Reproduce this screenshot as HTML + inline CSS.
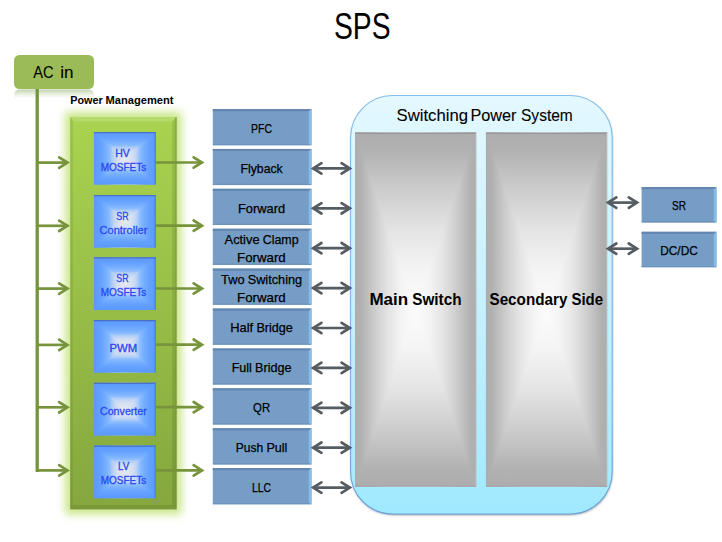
<!DOCTYPE html>
<html lang="en"><head><meta charset="utf-8"><title>SPS</title>
<style>html,body{margin:0;padding:0;background:#fff;}body{width:722px;height:542px;overflow:hidden;font-family:"Liberation Sans",sans-serif;}svg{display:block;}</style>
</head><body>
<svg width="722" height="542" viewBox="0 0 722 542" font-family="'Liberation Sans', sans-serif">
<defs>
<linearGradient id="gGreen" x1="0" y1="0" x2="0" y2="1"><stop offset="0" stop-color="#a9d350"/><stop offset="1" stop-color="#85a73e"/></linearGradient>
<linearGradient id="gBorder" x1="0" y1="0" x2="0" y2="1"><stop offset="0" stop-color="#84beeb"/><stop offset="0.7" stop-color="#7ab3e6"/><stop offset="1" stop-color="#6aa0d8"/></linearGradient>
<linearGradient id="gMain" x1="0" y1="0" x2="0" y2="1"><stop offset="0" stop-color="#e4f8ff"/><stop offset="0.5" stop-color="#c6f1ff"/><stop offset="1" stop-color="#a0e9ff"/></linearGradient>
<linearGradient id="gRefl" x1="0" y1="0" x2="0" y2="1"><stop offset="0" stop-color="#bdd0a8" stop-opacity="0.95"/><stop offset="0.45" stop-color="#c9d9b6" stop-opacity="0.5"/><stop offset="1" stop-color="#d5e2c6" stop-opacity="0"/></linearGradient>
<filter id="glow" x="-30%" y="-10%" width="160%" height="120%"><feGaussianBlur stdDeviation="4.5"/></filter>
<filter id="sh" x="-10%" y="-10%" width="120%" height="120%"><feGaussianBlur stdDeviation="1.2"/></filter>
<!-- path gradient pieces -->
<linearGradient id="bH" x1="0" y1="0" x2="1" y2="0"><stop offset="0.0000" stop-color="#5a98ff"/><stop offset="0.1100" stop-color="#64a1ff"/><stop offset="0.2000" stop-color="#78b0ff"/><stop offset="0.2600" stop-color="#8cbdff"/><stop offset="0.2900" stop-color="#accbf8"/><stop offset="0.3400" stop-color="#c7d8f4"/><stop offset="0.4000" stop-color="#d8e1f0"/><stop offset="0.5000" stop-color="#e6e9f0"/><stop offset="0.6000" stop-color="#d8e1f0"/><stop offset="0.6600" stop-color="#c7d8f4"/><stop offset="0.7100" stop-color="#accbf8"/><stop offset="0.7400" stop-color="#8cbdff"/><stop offset="0.8000" stop-color="#78b0ff"/><stop offset="0.8900" stop-color="#64a1ff"/><stop offset="1.0000" stop-color="#5a98ff"/></linearGradient>
<linearGradient id="bT" gradientUnits="objectBoundingBox" x1="0" y1="0" x2="0" y2="1"><stop offset="0" stop-color="#5a98ff"/><stop offset="0.22" stop-color="#64a1ff"/><stop offset="0.4" stop-color="#78b0ff"/><stop offset="0.52" stop-color="#8cbdff"/><stop offset="0.58" stop-color="#accbf8"/><stop offset="0.68" stop-color="#c7d8f4"/><stop offset="0.8" stop-color="#d8e1f0"/><stop offset="1" stop-color="#e6e9f0"/></linearGradient>
<linearGradient id="bB" gradientUnits="objectBoundingBox" x1="0" y1="1" x2="0" y2="0"><stop offset="0" stop-color="#5a98ff"/><stop offset="0.22" stop-color="#64a1ff"/><stop offset="0.4" stop-color="#78b0ff"/><stop offset="0.52" stop-color="#8cbdff"/><stop offset="0.58" stop-color="#accbf8"/><stop offset="0.68" stop-color="#c7d8f4"/><stop offset="0.8" stop-color="#d8e1f0"/><stop offset="1" stop-color="#e6e9f0"/></linearGradient>
<linearGradient id="yH" x1="0" y1="0" x2="1" y2="0"><stop offset="0.0000" stop-color="#adadad"/><stop offset="0.0500" stop-color="#b1b1b1"/><stop offset="0.1500" stop-color="#cacaca"/><stop offset="0.2750" stop-color="#e4e4e4"/><stop offset="0.3900" stop-color="#f4f4f4"/><stop offset="0.5000" stop-color="#fcfcfc"/><stop offset="0.6100" stop-color="#f4f4f4"/><stop offset="0.7250" stop-color="#e4e4e4"/><stop offset="0.8500" stop-color="#cacaca"/><stop offset="0.9500" stop-color="#b1b1b1"/><stop offset="1.0000" stop-color="#adadad"/></linearGradient>
<linearGradient id="yT" gradientUnits="objectBoundingBox" x1="0" y1="0" x2="0" y2="1"><stop offset="0" stop-color="#adadad"/><stop offset="0.1" stop-color="#b1b1b1"/><stop offset="0.3" stop-color="#cacaca"/><stop offset="0.55" stop-color="#e4e4e4"/><stop offset="0.78" stop-color="#f4f4f4"/><stop offset="1" stop-color="#fcfcfc"/></linearGradient>
<linearGradient id="yB" gradientUnits="objectBoundingBox" x1="0" y1="1" x2="0" y2="0"><stop offset="0" stop-color="#adadad"/><stop offset="0.1" stop-color="#b1b1b1"/><stop offset="0.3" stop-color="#cacaca"/><stop offset="0.55" stop-color="#e4e4e4"/><stop offset="0.78" stop-color="#f4f4f4"/><stop offset="1" stop-color="#fcfcfc"/></linearGradient>
</defs>
<rect width="722" height="542" fill="#fff"/>
<text x="362.30" y="38.70" font-size="36.63" text-anchor="middle" fill="#000" textLength="56.56" lengthAdjust="spacingAndGlyphs">SPS</text>
<path d="M14 98.5V95a5.5 5.5 0 0 1 5.5 -5.5H88.5a5.5 5.5 0 0 1 5.5 5.5V98.5Z" fill="url(#gRefl)"/>
<rect x="14" y="55" width="80" height="34" rx="5.5" fill="#9bbb59"/>
<text y="77.50" font-size="16.65" fill="#000" stroke="#000" stroke-width="0.1"><tspan x="33.30" textLength="20.30" lengthAdjust="spacingAndGlyphs">AC</tspan> <tspan x="60.30" textLength="13.30" lengthAdjust="spacingAndGlyphs">in</tspan></text>
<rect x="65.2" y="112" width="116.3" height="402.4" fill="#c9e688" filter="url(#glow)"/>
<path d="M37.2 89V472.0" stroke="#77933c" stroke-width="3.3" fill="none"/>
<path d="M37.3 162.6H67" stroke="#77933c" stroke-width="2.7" fill="none"/>
<path d="M59.16 157.40L67.46 162.60L59.16 167.80" stroke="#77933c" stroke-width="2.7" fill="none" stroke-linecap="round" stroke-linejoin="miter" stroke-miterlimit="10"/>
<path d="M37.3 225.8H67" stroke="#77933c" stroke-width="2.7" fill="none"/>
<path d="M59.16 220.60L67.46 225.80L59.16 231.00" stroke="#77933c" stroke-width="2.7" fill="none" stroke-linecap="round" stroke-linejoin="miter" stroke-miterlimit="10"/>
<path d="M37.3 288.6H67" stroke="#77933c" stroke-width="2.7" fill="none"/>
<path d="M59.16 283.40L67.46 288.60L59.16 293.80" stroke="#77933c" stroke-width="2.7" fill="none" stroke-linecap="round" stroke-linejoin="miter" stroke-miterlimit="10"/>
<path d="M37.3 344.9H67" stroke="#77933c" stroke-width="2.7" fill="none"/>
<path d="M59.16 339.70L67.46 344.90L59.16 350.10" stroke="#77933c" stroke-width="2.7" fill="none" stroke-linecap="round" stroke-linejoin="miter" stroke-miterlimit="10"/>
<path d="M37.3 407.3H67" stroke="#77933c" stroke-width="2.7" fill="none"/>
<path d="M59.16 402.10L67.46 407.30L59.16 412.50" stroke="#77933c" stroke-width="2.7" fill="none" stroke-linecap="round" stroke-linejoin="miter" stroke-miterlimit="10"/>
<path d="M37.3 470.4H67" stroke="#77933c" stroke-width="2.7" fill="none"/>
<path d="M59.16 465.20L67.46 470.40L59.16 475.60" stroke="#77933c" stroke-width="2.7" fill="none" stroke-linecap="round" stroke-linejoin="miter" stroke-miterlimit="10"/>
<rect x="70.2" y="117" width="106.3" height="392.4" fill="url(#gGreen)"/>
<path d="M70.2 117H176.5L172.1 121.4H74.60000000000001Z" fill="#fff" fill-opacity="0.16"/>
<path d="M70.2 117V509.4L72.8 505.0V121.4Z" fill="#000" fill-opacity="0.08"/>
<path d="M176.5 117V509.4L172.1 505.0V121.4Z" fill="#000" fill-opacity="0.09"/>
<path d="M70.2 509.4H176.5L172.1 505.0H72.8Z" fill="#000" fill-opacity="0.08"/>
<path d="M176.0 117V509.4" stroke="#6f9234" stroke-opacity="0.75" fill="none"/>
<text y="103.60" font-size="10.66" font-weight="bold" fill="#000"><tspan x="70.31" textLength="32.41" lengthAdjust="spacingAndGlyphs">Power</tspan> <tspan x="105.49" textLength="68.00" lengthAdjust="spacingAndGlyphs">Management</tspan></text>
<rect x="93.9" y="132" width="62.099999999999994" height="52.599999999999994" fill="url(#bH)"/>
<path d="M93.9 132H156L124.95 158.3Z" fill="url(#bT)"/>
<path d="M93.9 184.6H156L124.95 158.3Z" fill="url(#bB)"/>
<path d="M93.9 132.6H156" stroke="#4466b6" stroke-opacity="0.8" stroke-width="1.2" fill="none"/>
<path d="M155.2 132V184.6" stroke="#4a7be6" stroke-width="1.6" stroke-opacity="0.7" fill="none"/>
<text x="122.50" y="156.70" font-size="10.32" text-anchor="middle" fill="#2a48f2" stroke="#2a48f2" stroke-width="0.3" textLength="14.57" lengthAdjust="spacingAndGlyphs">HV</text>
<text x="123.50" y="170.90" font-size="10.32" text-anchor="middle" fill="#2a48f2" stroke="#2a48f2" stroke-width="0.3" textLength="45.63" lengthAdjust="spacingAndGlyphs">MOSFETs</text>
<path d="M156 162.5H201.5" stroke="#77933c" stroke-width="2.7" fill="none"/>
<path d="M193.66 157.30L201.96 162.50L193.66 167.70" stroke="#77933c" stroke-width="2.7" fill="none" stroke-linecap="round" stroke-linejoin="miter" stroke-miterlimit="10"/>
<rect x="93.9" y="195" width="62.099999999999994" height="52.599999999999994" fill="url(#bH)"/>
<path d="M93.9 195H156L124.95 221.3Z" fill="url(#bT)"/>
<path d="M93.9 247.6H156L124.95 221.3Z" fill="url(#bB)"/>
<path d="M93.9 195.6H156" stroke="#4466b6" stroke-opacity="0.8" stroke-width="1.2" fill="none"/>
<path d="M155.2 195V247.6" stroke="#4a7be6" stroke-width="1.6" stroke-opacity="0.7" fill="none"/>
<text x="122.50" y="219.70" font-size="10.32" text-anchor="middle" fill="#2a48f2" stroke="#2a48f2" stroke-width="0.3" textLength="12.27" lengthAdjust="spacingAndGlyphs">SR</text>
<text x="123.50" y="233.90" font-size="10.32" text-anchor="middle" fill="#2a48f2" stroke="#2a48f2" stroke-width="0.3" textLength="47.94" lengthAdjust="spacingAndGlyphs">Controller</text>
<path d="M156 225.7H201.5" stroke="#77933c" stroke-width="2.7" fill="none"/>
<path d="M193.66 220.50L201.96 225.70L193.66 230.90" stroke="#77933c" stroke-width="2.7" fill="none" stroke-linecap="round" stroke-linejoin="miter" stroke-miterlimit="10"/>
<rect x="93.9" y="257.3" width="62.099999999999994" height="52.60000000000002" fill="url(#bH)"/>
<path d="M93.9 257.3H156L124.95 283.6Z" fill="url(#bT)"/>
<path d="M93.9 309.90000000000003H156L124.95 283.6Z" fill="url(#bB)"/>
<path d="M93.9 257.90000000000003H156" stroke="#4466b6" stroke-opacity="0.8" stroke-width="1.2" fill="none"/>
<path d="M155.2 257.3V309.90000000000003" stroke="#4a7be6" stroke-width="1.6" stroke-opacity="0.7" fill="none"/>
<text x="122.50" y="282.00" font-size="10.32" text-anchor="middle" fill="#2a48f2" stroke="#2a48f2" stroke-width="0.3" textLength="12.27" lengthAdjust="spacingAndGlyphs">SR</text>
<text x="123.50" y="296.20" font-size="10.32" text-anchor="middle" fill="#2a48f2" stroke="#2a48f2" stroke-width="0.3" textLength="45.63" lengthAdjust="spacingAndGlyphs">MOSFETs</text>
<path d="M156 288.5H201.5" stroke="#77933c" stroke-width="2.7" fill="none"/>
<path d="M193.66 283.30L201.96 288.50L193.66 293.70" stroke="#77933c" stroke-width="2.7" fill="none" stroke-linecap="round" stroke-linejoin="miter" stroke-miterlimit="10"/>
<rect x="93.9" y="320" width="62.099999999999994" height="52.60000000000002" fill="url(#bH)"/>
<path d="M93.9 320H156L124.95 346.3Z" fill="url(#bT)"/>
<path d="M93.9 372.6H156L124.95 346.3Z" fill="url(#bB)"/>
<path d="M93.9 320.6H156" stroke="#4466b6" stroke-opacity="0.8" stroke-width="1.2" fill="none"/>
<path d="M155.2 320V372.6" stroke="#4a7be6" stroke-width="1.6" stroke-opacity="0.7" fill="none"/>
<text x="123.40" y="352.00" font-size="10.32" text-anchor="middle" fill="#2a48f2" stroke="#2a48f2" stroke-width="0.3" textLength="27.68" lengthAdjust="spacingAndGlyphs">PWM</text>
<path d="M156 344.7H201.5" stroke="#77933c" stroke-width="2.7" fill="none"/>
<path d="M193.66 339.50L201.96 344.70L193.66 349.90" stroke="#77933c" stroke-width="2.7" fill="none" stroke-linecap="round" stroke-linejoin="miter" stroke-miterlimit="10"/>
<rect x="93.9" y="382.8" width="62.099999999999994" height="52.60000000000002" fill="url(#bH)"/>
<path d="M93.9 382.8H156L124.95 409.1Z" fill="url(#bT)"/>
<path d="M93.9 435.40000000000003H156L124.95 409.1Z" fill="url(#bB)"/>
<path d="M93.9 383.40000000000003H156" stroke="#4466b6" stroke-opacity="0.8" stroke-width="1.2" fill="none"/>
<path d="M155.2 382.8V435.40000000000003" stroke="#4a7be6" stroke-width="1.6" stroke-opacity="0.7" fill="none"/>
<text x="123.40" y="414.80" font-size="10.32" text-anchor="middle" fill="#2a48f2" stroke="#2a48f2" stroke-width="0.3" textLength="46.88" lengthAdjust="spacingAndGlyphs">Converter</text>
<path d="M156 407.2H201.5" stroke="#77933c" stroke-width="2.7" fill="none"/>
<path d="M193.66 402.00L201.96 407.20L193.66 412.40" stroke="#77933c" stroke-width="2.7" fill="none" stroke-linecap="round" stroke-linejoin="miter" stroke-miterlimit="10"/>
<rect x="93.9" y="445.6" width="62.099999999999994" height="52.60000000000002" fill="url(#bH)"/>
<path d="M93.9 445.6H156L124.95 471.90000000000003Z" fill="url(#bT)"/>
<path d="M93.9 498.20000000000005H156L124.95 471.90000000000003Z" fill="url(#bB)"/>
<path d="M93.9 446.20000000000005H156" stroke="#4466b6" stroke-opacity="0.8" stroke-width="1.2" fill="none"/>
<path d="M155.2 445.6V498.20000000000005" stroke="#4a7be6" stroke-width="1.6" stroke-opacity="0.7" fill="none"/>
<text x="123.70" y="469.80" font-size="10.32" text-anchor="middle" fill="#2a48f2" stroke="#2a48f2" stroke-width="0.3" textLength="11.21" lengthAdjust="spacingAndGlyphs">LV</text>
<text x="123.50" y="483.90" font-size="10.32" text-anchor="middle" fill="#2a48f2" stroke="#2a48f2" stroke-width="0.3" textLength="45.63" lengthAdjust="spacingAndGlyphs">MOSFETs</text>
<path d="M156 470.4H201.5" stroke="#77933c" stroke-width="2.7" fill="none"/>
<path d="M193.66 465.20L201.96 470.40L193.66 475.60" stroke="#77933c" stroke-width="2.7" fill="none" stroke-linecap="round" stroke-linejoin="miter" stroke-miterlimit="10"/>
<rect x="212.8" y="109.0" width="98.69999999999999" height="36.19999999999999" fill="#769dc6"/>
<path d="M212.8 109.0H311.5L308.8 111.2H212.8Z" fill="#6587af"/>
<path d="M311.5 109.0V145.2L308.8 143.89999999999998V111.2Z" fill="#86bde8"/>
<path d="M212.8 145.2H311.5L308.8 143.89999999999998H212.8Z" fill="#6d93bc"/>
<text x="261.60" y="132.70" font-size="12.95" text-anchor="middle" fill="#000" stroke="#000" stroke-width="0.25" textLength="21.01" lengthAdjust="spacingAndGlyphs">PFC</text>
<rect x="212.8" y="148.9" width="98.69999999999999" height="36.20000000000002" fill="#769dc6"/>
<path d="M212.8 148.9H311.5L308.8 151.1H212.8Z" fill="#6587af"/>
<path d="M311.5 148.9V185.10000000000002L308.8 183.8V151.1Z" fill="#86bde8"/>
<path d="M212.8 185.10000000000002H311.5L308.8 183.8H212.8Z" fill="#6d93bc"/>
<text x="261.60" y="172.60" font-size="12.95" text-anchor="middle" fill="#000" stroke="#000" stroke-width="0.25" textLength="42.33" lengthAdjust="spacingAndGlyphs">Flyback</text>
<rect x="212.8" y="188.8" width="98.69999999999999" height="36.19999999999999" fill="#769dc6"/>
<path d="M212.8 188.8H311.5L308.8 191.0H212.8Z" fill="#6587af"/>
<path d="M311.5 188.8V225.0L308.8 223.7V191.0Z" fill="#86bde8"/>
<path d="M212.8 225.0H311.5L308.8 223.7H212.8Z" fill="#6d93bc"/>
<text x="261.60" y="212.50" font-size="12.95" text-anchor="middle" fill="#000" stroke="#000" stroke-width="0.25" textLength="47.18" lengthAdjust="spacingAndGlyphs">Forward</text>
<rect x="212.8" y="228.7" width="98.69999999999999" height="36.19999999999999" fill="#769dc6"/>
<path d="M212.8 228.7H311.5L308.8 230.89999999999998H212.8Z" fill="#6587af"/>
<path d="M311.5 228.7V264.9L308.8 263.59999999999997V230.89999999999998Z" fill="#86bde8"/>
<path d="M212.8 264.9H311.5L308.8 263.59999999999997H212.8Z" fill="#6d93bc"/>
<text y="243.60" font-size="12.95" fill="#000" stroke="#000" stroke-width="0.25"><tspan x="224.57" textLength="34.97" lengthAdjust="spacingAndGlyphs">Active</tspan> <tspan x="262.71" textLength="35.92" lengthAdjust="spacingAndGlyphs">Clamp</tspan></text>
<text x="261.40" y="261.60" font-size="12.95" text-anchor="middle" fill="#000" stroke="#000" stroke-width="0.25" textLength="48.60" lengthAdjust="spacingAndGlyphs">Forward</text>
<rect x="212.8" y="268.6" width="98.69999999999999" height="36.19999999999999" fill="#769dc6"/>
<path d="M212.8 268.6H311.5L308.8 270.8H212.8Z" fill="#6587af"/>
<path d="M311.5 268.6V304.8L308.8 303.5V270.8Z" fill="#86bde8"/>
<path d="M212.8 304.8H311.5L308.8 303.5H212.8Z" fill="#6d93bc"/>
<text y="283.50" font-size="12.95" fill="#000" stroke="#000" stroke-width="0.25"><tspan x="221.03" textLength="23.50" lengthAdjust="spacingAndGlyphs">Two</tspan> <tspan x="247.69" textLength="54.49" lengthAdjust="spacingAndGlyphs">Switching</tspan></text>
<text x="261.40" y="301.50" font-size="12.95" text-anchor="middle" fill="#000" stroke="#000" stroke-width="0.25" textLength="48.60" lengthAdjust="spacingAndGlyphs">Forward</text>
<rect x="212.8" y="308.5" width="98.69999999999999" height="36.19999999999999" fill="#769dc6"/>
<path d="M212.8 308.5H311.5L308.8 310.7H212.8Z" fill="#6587af"/>
<path d="M311.5 308.5V344.7L308.8 343.4V310.7Z" fill="#86bde8"/>
<path d="M212.8 344.7H311.5L308.8 343.4H212.8Z" fill="#6d93bc"/>
<text y="332.20" font-size="12.95" fill="#000" stroke="#000" stroke-width="0.25"><tspan x="230.31" textLength="22.91" lengthAdjust="spacingAndGlyphs">Half</tspan> <tspan x="256.39" textLength="36.50" lengthAdjust="spacingAndGlyphs">Bridge</tspan></text>
<rect x="212.8" y="348.4" width="98.69999999999999" height="36.19999999999999" fill="#769dc6"/>
<path d="M212.8 348.4H311.5L308.8 350.59999999999997H212.8Z" fill="#6587af"/>
<path d="M311.5 348.4V384.59999999999997L308.8 383.29999999999995V350.59999999999997Z" fill="#86bde8"/>
<path d="M212.8 384.59999999999997H311.5L308.8 383.29999999999995H212.8Z" fill="#6d93bc"/>
<text y="372.10" font-size="12.95" fill="#000" stroke="#000" stroke-width="0.25"><tspan x="231.66" textLength="20.21" lengthAdjust="spacingAndGlyphs">Full</tspan> <tspan x="255.04" textLength="36.50" lengthAdjust="spacingAndGlyphs">Bridge</tspan></text>
<rect x="212.8" y="388.3" width="98.69999999999999" height="36.19999999999999" fill="#769dc6"/>
<path d="M212.8 388.3H311.5L308.8 390.5H212.8Z" fill="#6587af"/>
<path d="M311.5 388.3V424.5L308.8 423.2V390.5Z" fill="#86bde8"/>
<path d="M212.8 424.5H311.5L308.8 423.2H212.8Z" fill="#6d93bc"/>
<text x="261.60" y="412.00" font-size="12.95" text-anchor="middle" fill="#000" stroke="#000" stroke-width="0.25" textLength="17.02" lengthAdjust="spacingAndGlyphs">QR</text>
<rect x="212.8" y="428.2" width="98.69999999999999" height="36.19999999999999" fill="#769dc6"/>
<path d="M212.8 428.2H311.5L308.8 430.4H212.8Z" fill="#6587af"/>
<path d="M311.5 428.2V464.4L308.8 463.09999999999997V430.4Z" fill="#86bde8"/>
<path d="M212.8 464.4H311.5L308.8 463.09999999999997H212.8Z" fill="#6d93bc"/>
<text y="451.90" font-size="12.95" fill="#000" stroke="#000" stroke-width="0.25"><tspan x="235.80" textLength="27.42" lengthAdjust="spacingAndGlyphs">Push</tspan> <tspan x="266.39" textLength="21.01" lengthAdjust="spacingAndGlyphs">Pull</tspan></text>
<rect x="212.8" y="468.09999999999997" width="98.69999999999999" height="36.19999999999999" fill="#769dc6"/>
<path d="M212.8 468.09999999999997H311.5L308.8 470.29999999999995H212.8Z" fill="#6587af"/>
<path d="M311.5 468.09999999999997V504.29999999999995L308.8 502.99999999999994V470.29999999999995Z" fill="#86bde8"/>
<path d="M212.8 504.29999999999995H311.5L308.8 502.99999999999994H212.8Z" fill="#6d93bc"/>
<text x="261.60" y="491.80" font-size="12.95" text-anchor="middle" fill="#000" stroke="#000" stroke-width="0.25" textLength="19.09" lengthAdjust="spacingAndGlyphs">LLC</text>
<rect x="350.9" y="96.6" width="261.6" height="418.6" rx="42" fill="#56646f" fill-opacity="0.6" filter="url(#sh)"/>
<rect x="350.6" y="95.5" width="261.6" height="418.5" rx="42" fill="url(#gMain)" stroke="url(#gBorder)" stroke-width="1.1"/>
<text y="120.70" font-size="16.65" fill="#000" stroke="#000" stroke-width="0.1"><tspan x="396.60" textLength="71.40" lengthAdjust="spacingAndGlyphs">Switching</tspan> <tspan x="470.40" textLength="46.10" lengthAdjust="spacingAndGlyphs">Power</tspan> <tspan x="521.00" textLength="51.80" lengthAdjust="spacingAndGlyphs">System</tspan></text>
<rect x="355" y="132.4" width="121.39999999999998" height="354.4" fill="url(#yH)"/>
<path d="M355 132.4H476.4L415.7 309.6Z" fill="url(#yT)"/>
<path d="M355 486.8H476.4L415.7 309.6Z" fill="url(#yB)"/>
<path d="M355 132.4H476.4L475.2 133.70000000000002H355Z" fill="#000" fill-opacity="0.16"/>
<path d="M476.4 132.4V486.8L475.2 485.6V133.70000000000002Z" fill="#fff" fill-opacity="0.14"/>
<path d="M355 486.8H476.4L475.2 485.6H355Z" fill="#000" fill-opacity="0.06"/>
<rect x="485.9" y="132.4" width="121.39999999999998" height="354.4" fill="url(#yH)"/>
<path d="M485.9 132.4H607.3L546.5999999999999 309.6Z" fill="url(#yT)"/>
<path d="M485.9 486.8H607.3L546.5999999999999 309.6Z" fill="url(#yB)"/>
<path d="M485.9 132.4H607.3L606.0999999999999 133.70000000000002H485.9Z" fill="#000" fill-opacity="0.16"/>
<path d="M607.3 132.4V486.8L606.0999999999999 485.6V133.70000000000002Z" fill="#fff" fill-opacity="0.14"/>
<path d="M485.9 486.8H607.3L606.0999999999999 485.6H485.9Z" fill="#000" fill-opacity="0.06"/>
<text y="304.50" font-size="16.65" font-weight="bold" fill="#000"><tspan x="369.43" textLength="38.70" lengthAdjust="spacingAndGlyphs">Main</tspan> <tspan x="412.20" textLength="49.37" lengthAdjust="spacingAndGlyphs">Switch</tspan></text>
<text y="304.50" font-size="16.65" font-weight="bold" fill="#000"><tspan x="489.49" textLength="77.90" lengthAdjust="spacingAndGlyphs">Secondary</tspan> <tspan x="571.46" textLength="31.65" lengthAdjust="spacingAndGlyphs">Side</tspan></text>
<path d="M313.6 168.4H349.4" stroke="#555c62" stroke-width="2.7" fill="none"/>
<path d="M341.56 163.20L349.86 168.40L341.56 173.60M321.44 163.20L313.14 168.40L321.44 173.60" stroke="#555c62" stroke-width="2.7" fill="none" stroke-linecap="round" stroke-linejoin="miter" stroke-miterlimit="10"/>
<path d="M313.6 208.3H349.4" stroke="#555c62" stroke-width="2.7" fill="none"/>
<path d="M341.56 203.10L349.86 208.30L341.56 213.50M321.44 203.10L313.14 208.30L321.44 213.50" stroke="#555c62" stroke-width="2.7" fill="none" stroke-linecap="round" stroke-linejoin="miter" stroke-miterlimit="10"/>
<path d="M313.6 248.2H349.4" stroke="#555c62" stroke-width="2.7" fill="none"/>
<path d="M341.56 243.00L349.86 248.20L341.56 253.40M321.44 243.00L313.14 248.20L321.44 253.40" stroke="#555c62" stroke-width="2.7" fill="none" stroke-linecap="round" stroke-linejoin="miter" stroke-miterlimit="10"/>
<path d="M313.6 288.1H349.4" stroke="#555c62" stroke-width="2.7" fill="none"/>
<path d="M341.56 282.90L349.86 288.10L341.56 293.30M321.44 282.90L313.14 288.10L321.44 293.30" stroke="#555c62" stroke-width="2.7" fill="none" stroke-linecap="round" stroke-linejoin="miter" stroke-miterlimit="10"/>
<path d="M313.6 328.0H349.4" stroke="#555c62" stroke-width="2.7" fill="none"/>
<path d="M341.56 322.80L349.86 328.00L341.56 333.20M321.44 322.80L313.14 328.00L321.44 333.20" stroke="#555c62" stroke-width="2.7" fill="none" stroke-linecap="round" stroke-linejoin="miter" stroke-miterlimit="10"/>
<path d="M313.6 367.9H349.4" stroke="#555c62" stroke-width="2.7" fill="none"/>
<path d="M341.56 362.70L349.86 367.90L341.56 373.10M321.44 362.70L313.14 367.90L321.44 373.10" stroke="#555c62" stroke-width="2.7" fill="none" stroke-linecap="round" stroke-linejoin="miter" stroke-miterlimit="10"/>
<path d="M313.6 407.8H349.4" stroke="#555c62" stroke-width="2.7" fill="none"/>
<path d="M341.56 402.60L349.86 407.80L341.56 413.00M321.44 402.60L313.14 407.80L321.44 413.00" stroke="#555c62" stroke-width="2.7" fill="none" stroke-linecap="round" stroke-linejoin="miter" stroke-miterlimit="10"/>
<path d="M313.6 447.7H349.4" stroke="#555c62" stroke-width="2.7" fill="none"/>
<path d="M341.56 442.50L349.86 447.70L341.56 452.90M321.44 442.50L313.14 447.70L321.44 452.90" stroke="#555c62" stroke-width="2.7" fill="none" stroke-linecap="round" stroke-linejoin="miter" stroke-miterlimit="10"/>
<path d="M313.6 487.59999999999997H349.4" stroke="#555c62" stroke-width="2.7" fill="none"/>
<path d="M341.56 482.40L349.86 487.60L341.56 492.80M321.44 482.40L313.14 487.60L321.44 492.80" stroke="#555c62" stroke-width="2.7" fill="none" stroke-linecap="round" stroke-linejoin="miter" stroke-miterlimit="10"/>
<rect x="641.6" y="187" width="74.89999999999998" height="35.400000000000006" fill="#769dc6"/>
<path d="M641.6 187H716.5L713.8 189.2H641.6Z" fill="#6587af"/>
<path d="M716.5 187V222.4L713.8 221.1V189.2Z" fill="#86bde8"/>
<path d="M641.6 222.4H716.5L713.8 221.1H641.6Z" fill="#6d93bc"/>
<rect x="641.6" y="231.8" width="74.89999999999998" height="35.39999999999998" fill="#769dc6"/>
<path d="M641.6 231.8H716.5L713.8 234.0H641.6Z" fill="#6587af"/>
<path d="M716.5 231.8V267.2L713.8 265.9V234.0Z" fill="#86bde8"/>
<path d="M641.6 267.2H716.5L713.8 265.9H641.6Z" fill="#6d93bc"/>
<text x="679.00" y="210.00" font-size="12.95" text-anchor="middle" fill="#000" stroke="#000" stroke-width="0.25" textLength="14.03" lengthAdjust="spacingAndGlyphs">SR</text>
<text x="679.00" y="254.80" font-size="12.95" text-anchor="middle" fill="#000" stroke="#000" stroke-width="0.25" textLength="37.56" lengthAdjust="spacingAndGlyphs">DC/DC</text>
<path d="M608.5 202.6H636.6" stroke="#555c62" stroke-width="2.7" fill="none"/>
<path d="M628.76 197.40L637.06 202.60L628.76 207.80M616.34 197.40L608.04 202.60L616.34 207.80" stroke="#555c62" stroke-width="2.7" fill="none" stroke-linecap="round" stroke-linejoin="miter" stroke-miterlimit="10"/>
<path d="M608.5 248.7H636.6" stroke="#555c62" stroke-width="2.7" fill="none"/>
<path d="M628.76 243.50L637.06 248.70L628.76 253.90M616.34 243.50L608.04 248.70L616.34 253.90" stroke="#555c62" stroke-width="2.7" fill="none" stroke-linecap="round" stroke-linejoin="miter" stroke-miterlimit="10"/>
</svg>
</body></html>
